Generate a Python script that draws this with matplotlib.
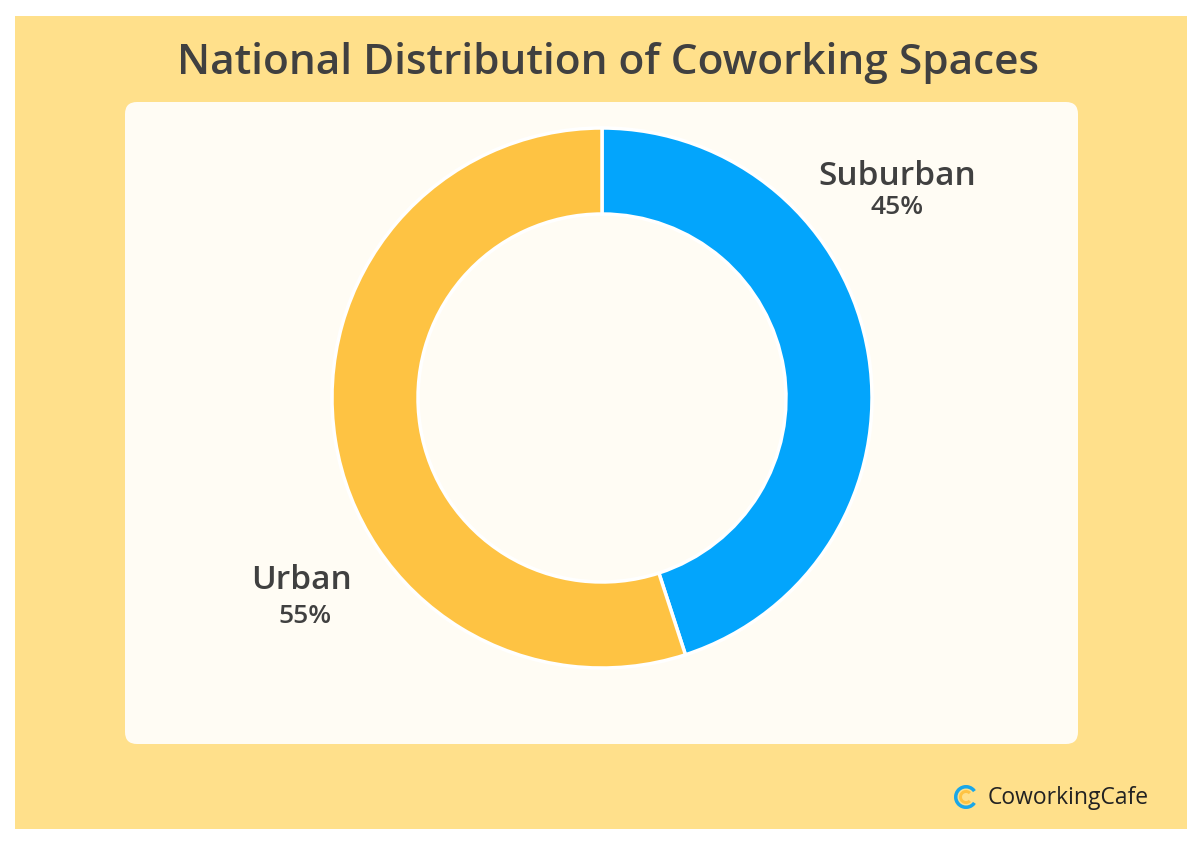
import matplotlib
matplotlib.use("Agg")
import matplotlib.pyplot as plt
from matplotlib.patches import FancyBboxPatch, Rectangle, Wedge

title = "National Distribution of Coworking Spaces"
labels = ["Suburban", "Urban"]
shares = [45, 55]
colors = ["#03A5FC", "#FEC343"]
brand = "CoworkingCafe"

W, H = 1200, 843
fig = plt.figure(figsize=(W / 100, H / 100), dpi=100)
fig.patch.set_facecolor("white")

# background layer in pixel coords (y from top)
bg = fig.add_axes([0, 0, 1, 1])
bg.set_xlim(0, W)
bg.set_ylim(H, 0)
bg.axis("off")
bg.add_patch(Rectangle((15, 16), 1172, 813, facecolor="#FFE08B", edgecolor="none"))
bg.add_patch(FancyBboxPatch((137, 114), 929, 618,
                            boxstyle="round,pad=12,rounding_size=12",
                            facecolor="#FFFCF4", edgecolor="none"))

font = "Open Sans"
dark = "#404040"
bg.text(608, 74, title, ha="center", va="baseline", fontsize=30.5,
        fontweight="semibold", color=dark, family=font)

# donut
cx, cy, r = 602, 398, 270
ax = fig.add_axes([(cx - r) / W, (H - cy - r) / H, 2 * r / W, 2 * r / H])
ax.pie(shares, colors=colors, startangle=90, counterclock=False,
       radius=1, wedgeprops=dict(width=86 / r, edgecolor="white", linewidth=2.5))
ax.set_xlim(-1, 1)
ax.set_ylim(-1, 1)
ax.set_aspect("equal")
ax.axis("off")

# labels
bg.text(897, 185, labels[0], ha="center", va="baseline", fontsize=24,
        fontweight="semibold", color=dark, family=font)
bg.text(897, 214, f"{shares[0]}%", ha="center", va="baseline", fontsize=19,
        fontweight="semibold", color=dark, family=font)
bg.text(301, 589, labels[1], ha="center", va="baseline", fontsize=24,
        fontweight="semibold", color=dark, family=font)
bg.text(305, 623, f"{shares[1]}%", ha="center", va="baseline", fontsize=19,
        fontweight="semibold", color=dark, family=font)

# logo
bg.add_patch(Wedge((966, 797), 12, 35, 325, width=3.5, facecolor="#1AA7E8", edgecolor="none"))
bg.add_patch(Wedge((966, 797), 7, 45, 315, width=3, facecolor="#FEC343", edgecolor="none"))
bg.text(988, 804, brand, ha="left", va="baseline", fontsize=16.5,
        color="#222222", family=font)

fig.savefig("out.png", dpi=100, facecolor=fig.get_facecolor())
